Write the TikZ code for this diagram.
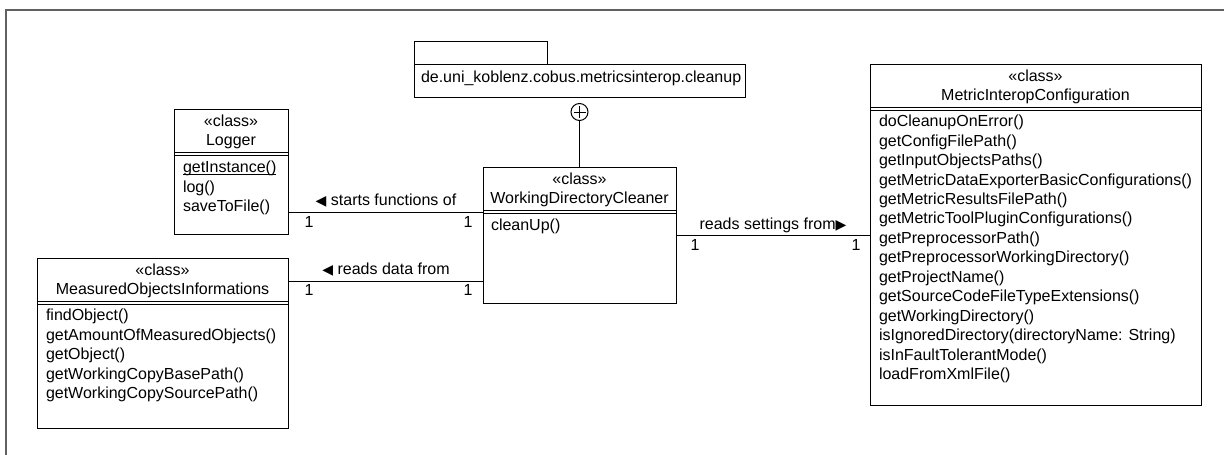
\documentclass[tikz,border=0pt]{standalone}
\usepackage{fontspec}
\setmainfont{Liberation Sans}
\newfontfamily\symfont{DejaVu Sans}
\newcommand{\lefttri}{{\symfont\fontsize{14}{14}\selectfont ◀}}
\newcommand{\righttri}{{\symfont\fontsize{14}{14}\selectfont ▶}}
\begin{document}
\begin{tikzpicture}[x=1pt,y=-1pt,
  every node/.style={inner sep=0pt, outer sep=0pt, font=\fontsize{16}{19.5}\selectfont},
  classbox/.style={draw=black, line width=1pt, rectangle, anchor=north west},
  head/.style={anchor=mid},
  member/.style={anchor=mid west},
  mult/.style={anchor=mid},
  rel/.style={line width=1pt},
  sep/.style={line width=1pt},
  frame/.style={draw={rgb,1:red,0.38;green,0.38;blue,0.38}, line width=1.3pt}
]
\useasboundingbox (0,0) rectangle (1224,455);

% diagram frame
\draw[frame] (6,455) -- (6,10) -- (1224,10);

% package
\node[classbox, minimum width=133pt, minimum height=23pt] (pkgtab) at (414,41) {};
\node[classbox, minimum width=331pt, minimum height=33pt] (pkg) at (414,64) {};
\node[member] (pkgname) at (421,79.5) {de.uni\_koblenz.cobus.metricsinterop.cleanup};
\node[draw, circle, line width=1pt, minimum size=17pt] (nest) at (579.5,112) {};
\draw[line width=0.9pt] ([xshift=-6pt]nest.center) -- ([xshift=6pt]nest.center);
\draw[line width=0.9pt] ([yshift=-6pt]nest.center) -- ([yshift=6pt]nest.center);

% Logger
\node[classbox, minimum width=114pt, minimum height=125pt] (logger) at (174,109) {};
\node[head] (loggerst) at (231,123.5) {«class»};
\node[head] (loggername) at (231,143) {Logger};
\draw[sep] (logger.west |- 0,152) -- (logger.east |- 0,152);
\draw[sep] (logger.west |- 0,155) -- (logger.east |- 0,155);
\node[member] (gi) at (183,170) {getInstance()};
\draw[line width=0.8pt] ([yshift=-2.2pt]gi.base west) -- ([yshift=-2.2pt]gi.base east);
\node[member] (lg) at (183,189.5) {log()};
\node[member] (stf) at (183,209) {saveToFile()};

% MeasuredObjectsInformations
\node[classbox, minimum width=251pt, minimum height=170pt] (moi) at (37,258) {};
\node[head] (moist) at (162.5,272.5) {«class»};
\node[head] (moiname) at (162.5,292) {MeasuredObjectsInformations};
\draw[sep] (moi.west |- 0,301) -- (moi.east |- 0,301);
\draw[sep] (moi.west |- 0,304) -- (moi.east |- 0,304);
\foreach \t [count=\i] in {findObject(), getAmountOfMeasuredObjects(), getObject(),
    getWorkingCopyBasePath(), getWorkingCopySourcePath()}
  \node[member] (moi\i) at (46,{318+19.5*(\i-1)}) {\t};

% WorkingDirectoryCleaner
\node[classbox, minimum width=193pt, minimum height=136pt] (wdc) at (483,167) {};
\node[head] (wdcst) at (579.5,181.5) {«class»};
\node[head] (wdcname) at (579.5,201) {WorkingDirectoryCleaner};
\draw[sep] (wdc.west |- 0,210) -- (wdc.east |- 0,210);
\draw[sep] (wdc.west |- 0,213) -- (wdc.east |- 0,213);
\node[member] (cu) at (491,228) {cleanUp()};

% MetricInteropConfiguration
\node[classbox, minimum width=331pt, minimum height=341pt] (mic) at (870,64) {};
\node[head] (micst) at (1035.5,78.5) {«class»};
\node[head] (micname) at (1035.5,98) {MetricInteropConfiguration};
\draw[sep] (mic.west |- 0,107) -- (mic.east |- 0,107);
\draw[sep] (mic.west |- 0,110) -- (mic.east |- 0,110);
\foreach \t [count=\i] in {doCleanupOnError(), getConfigFilePath(), getInputObjectsPaths(),
    getMetricDataExporterBasicConfigurations(), getMetricResultsFilePath(),
    getMetricToolPluginConfigurations(), getPreprocessorPath(),
    getPreprocessorWorkingDirectory(), getProjectName(),
    getSourceCodeFileTypeExtensions(), getWorkingDirectory(),
    isIgnoredDirectory(directoryName: String), isInFaultTolerantMode(),
    loadFromXmlFile()}
  \node[member] (mic\i) at (879,{124+19.46*(\i-1)}) {\t};

% containment
\draw[rel] (nest.south) -- (wdc.north);

% associations
\coordinate (ya) at (0,212.5);
\coordinate (yb) at (0,281);
\coordinate (yc) at (0,235.5);
\draw[rel] (logger.east |- ya) -- (wdc.west |- ya);
\node[head] (lbla) at (386,203) {\lefttri\ starts functions of};
\node[mult] (ma1) at (309,224.5) {1};
\node[mult] (ma2) at (468,224.5) {1};

\draw[rel] (moi.east |- yb) -- (wdc.west |- yb);
\node[head] (lblb) at (386,272) {\lefttri\ reads data from};
\node[mult] (mb1) at (309,293) {1};
\node[mult] (mb2) at (468,293) {1};

\draw[rel] (wdc.east |- yc) -- (mic.west |- yc);
\node[head] (lblc) at (773,226.5) {reads settings from\righttri};
\node[mult] (mc1) at (695,247.5) {1};
\node[mult] (mc2) at (856,247.5) {1};
\end{tikzpicture}
\end{document}
